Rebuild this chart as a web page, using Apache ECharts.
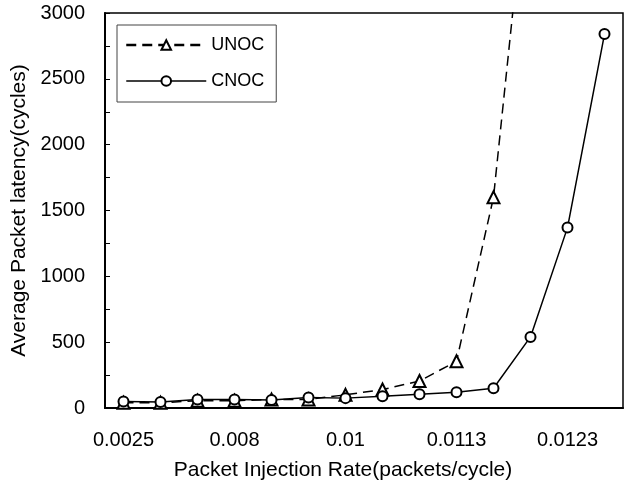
<!DOCTYPE html>
<html>
<head>
<meta charset="utf-8">
<script src="https://cdn.jsdelivr.net/npm/echarts@6/dist/echarts.min.js"></script>
<style>html,body{margin:0;padding:0;background:#fff;}#c{width:628px;height:482px;}</style>
</head>
<body>
<div id="c"></div>
<script>
// injection rates (only every third one is labelled on the axis)
var categories = ['0.0025','0.005','0.007','0.008','0.009','0.0095','0.01','0.0105','0.011','0.0113','0.0118','0.012','0.0123','0.0125'];
var unocValues = [40, 40, 55, 55, 65, 65, 100, 140, 205, 355, 1600, 4300];
var cnocValues = [50, 45, 65, 65, 60, 80, 75, 90, 105, 120, 150, 540, 1370, 2840];
var yTicks = [0, 500, 1000, 1500, 2000, 2500, 3000];

var FONT = 'Liberation Sans, Arial, sans-serif';
var chart = echarts.init(document.getElementById('c'), null, {renderer: 'canvas'});
chart.setOption({
  animation: false,
  backgroundColor: '#fff',
  grid: {left: 105, right: 5, top: 13, bottom: 74, outerBoundsMode: 'none', containLabel: false,
         show: true, borderColor: '#000', borderWidth: 1.5, backgroundColor: 'transparent'},
  legend: {
    left: 117, top: 25, orient: 'vertical',
    itemWidth: 80, itemHeight: 12, itemGap: 18,
    padding: [11, 12, 12, 8],
    borderColor: '#444', borderWidth: 1,
    textStyle: {fontFamily: FONT, fontSize: 18, color: '#000'},
    data: [
      {name: 'UNOC', lineStyle: {width: 2.5}},
      {name: 'CNOC', lineStyle: {width: 1.5}}
    ]
  },
  xAxis: [{
    type: 'category', data: categories, boundaryGap: true,
    name: 'Packet Injection Rate(packets/cycle)', nameLocation: 'middle', nameGap: 52,
    nameTextStyle: {fontFamily: FONT, fontSize: 21, color: '#000', padding: [0, 42, 0, 0]},
    axisLine: {lineStyle: {color: '#000', width: 2}},
    axisTick: {inside: true, length: 5, interval: 0, lineStyle: {color: '#000', width: 1}},
    axisLabel: {interval: 2, margin: 22, fontFamily: FONT, fontSize: 20, color: '#000'},
    splitLine: {show: false}
  }, {
    type: 'category', data: categories, boundaryGap: true, position: 'bottom',
    axisLine: {show: false},
    axisTick: {inside: true, length: 5, interval: 0, alignWithLabel: true, lineStyle: {color: '#000', width: 1}},
    axisLabel: {show: false},
    splitLine: {show: false}
  }],
  yAxis: {
    type: 'value', min: yTicks[0], max: yTicks[yTicks.length - 1], interval: yTicks[1] - yTicks[0],
    name: 'Average Packet latency(cycles)', nameLocation: 'middle', nameGap: 67,
    nameTextStyle: {fontFamily: FONT, fontSize: 21, color: '#000'},
    axisLine: {show: true, lineStyle: {color: '#000', width: 2}},
    axisTick: {show: true, inside: true, length: 5, lineStyle: {color: '#000', width: 1}},
    minorTick: {show: true, splitNumber: 2, length: 5, lineStyle: {color: '#000', width: 1}},
    axisLabel: {margin: 20, fontFamily: FONT, fontSize: 20, color: '#000', formatter: function (v) { return String(v); }},
    splitLine: {show: false}
  },
  series: [{
    name: 'UNOC', type: 'line', data: unocValues, xAxisIndex: 0,
    symbol: 'emptyTriangle', symbolSize: 12, clip: true,
    lineStyle: {color: '#000', width: 1.5, type: [10, 6]},
    itemStyle: {color: '#000', borderWidth: 2}
  }, {
    name: 'CNOC', type: 'line', data: cnocValues, xAxisIndex: 0,
    symbol: 'emptyCircle', symbolSize: 10, clip: true,
    lineStyle: {color: '#000', width: 1.5},
    itemStyle: {color: '#000', borderWidth: 2}
  }]
});
</script>
</body>
</html>
